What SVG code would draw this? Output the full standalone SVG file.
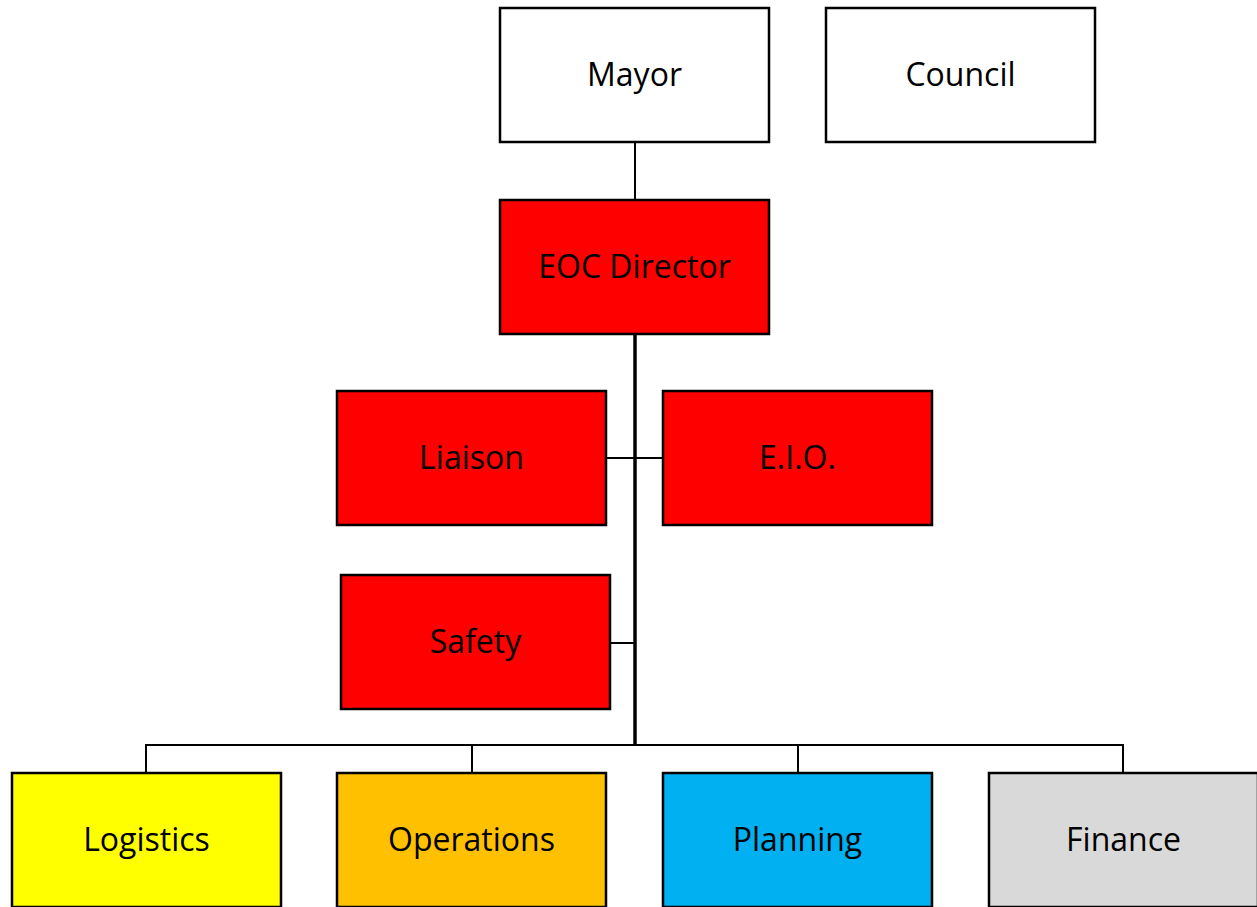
<svg xmlns="http://www.w3.org/2000/svg" width="1257" height="907" viewBox="0 0 1257 907">
<style>
.box{stroke:#000;stroke-width:2.5}
.t{font-family:"Open Sans","Liberation Sans",sans-serif;font-size:32px;fill:#000;text-anchor:middle;dominant-baseline:central}
.c{stroke:#000;stroke-width:2;fill:none}
.thick{stroke:#000;stroke-width:3.5;fill:none}
</style>
<rect width="1257" height="907" fill="#fff"/>
<g id="connectors">
<line class="c" x1="635" y1="142" x2="635" y2="200"/>
<line class="thick" x1="635" y1="334" x2="635" y2="745"/>
<line class="c" x1="607" y1="458" x2="663" y2="458"/>
<line class="c" x1="611" y1="643" x2="635" y2="643"/>
<polyline class="c" points="146,773 146,745 1123,745 1123,773"/>
<line class="c" x1="472" y1="745" x2="472" y2="773"/>
<line class="c" x1="798" y1="745" x2="798" y2="773"/>
</g>
<g id="mayor"><rect class="box" x="500" y="8" width="269" height="134" fill="#fff"/><text class="t" x="634.5" y="73">Mayor</text></g>
<g id="council"><rect class="box" x="826" y="8" width="269" height="134" fill="#fff"/><text class="t" x="960.5" y="73">Council</text></g>
<g id="eoc-director"><rect class="box" x="500" y="200" width="269" height="134" fill="#f00"/><text class="t" x="634.5" y="265">EOC Director</text></g>
<g id="liaison"><rect class="box" x="337" y="391" width="269" height="134" fill="#f00"/><text class="t" x="471.5" y="456">Liaison</text></g>
<g id="eio"><rect class="box" x="663" y="391" width="269" height="134" fill="#f00"/><text class="t" x="797.5" y="456">E.I.O.</text></g>
<g id="safety"><rect class="box" x="341" y="575" width="269" height="134" fill="#f00"/><text class="t" x="475.5" y="640">Safety</text></g>
<g id="logistics"><rect class="box" x="12" y="773" width="269" height="134" fill="#ff0"/><text class="t" x="146.5" y="838">Logistics</text></g>
<g id="operations"><rect class="box" x="337" y="773" width="269" height="134" fill="#ffc000"/><text class="t" x="471.5" y="838">Operations</text></g>
<g id="planning"><rect class="box" x="663" y="773" width="269" height="134" fill="#00b0f0"/><text class="t" x="797.5" y="838">Planning</text></g>
<g id="finance"><rect class="box" x="989" y="773" width="269" height="134" fill="#d9d9d9"/><text class="t" x="1123.5" y="838">Finance</text></g>
</svg>
